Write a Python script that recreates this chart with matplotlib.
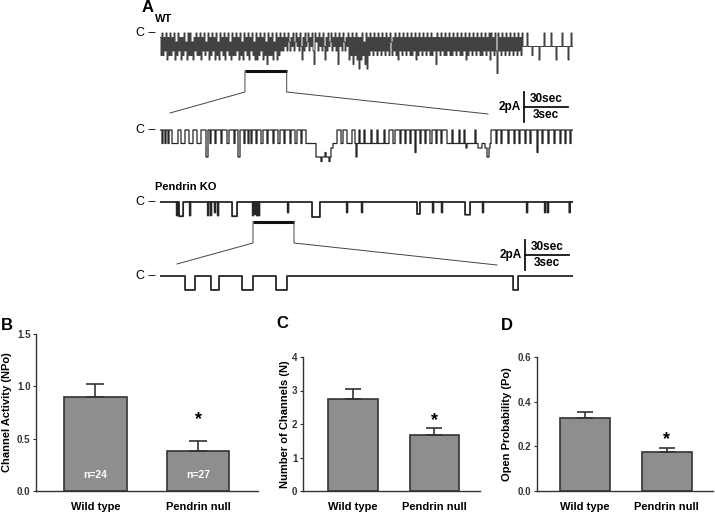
import matplotlib
matplotlib.use("Agg")
import matplotlib.pyplot as plt
import numpy as np

plt.rcParams['font.family'] = ['Liberation Sans', 'DejaVu Sans']
plt.rcParams['path.simplify'] = False

W, H = 715, 513

# ---- panel A: single channel records ----
# WT records: one character per sample = current below the closed level, in 0.3 pA steps
step_pa = 0.3
wt_full = ("1505140615" "0514062504" "1615042605" "0526140515" "0614052406"
           "1504160526" "0415061405" "2605150416" "0526041506" "1405260615"
           "0416052705" "1506240615" "041"
           "4031402413" "0420314036" "1403204130" "4702140314" "0361403204"
           "1304170314" "0241306"
           "1507150618" "1605270815" "0"
           "4150415041" "5041504150" "2514051604" "1504150415" "0514061504"
           "1504150415" "0514170415" "0415051405" "1504150415" "0514061504"
           "1504150415" "0514051406" "0415049041" "5041504150" "4150415041"
           "50"
           "3333033335" "3333336333" "3033333303" "3336333330" "3333363303")
wt_zoom = ("0030030030" "0033333300" "0333300003" "3330000333" "3000006600"
           "3000030000" "0300000330" "0000300066" "0000300030" "0300003000"
           "0330000300" "0003000033" "0000300000" "3000033000" "0300003333"
           "3333336666" "6766656667" "6443333000" "0330000333" "3300036330"
           "3333033333" "3033333033" "3333033330" "0003300000" "3000030000"
           "3000050000" "3000030000" "3300003000" "0300000333" "3303333330"
           "3333034333" "3333303344" "4433344664" "3000003000" "0300000030"
           "0000300003" "0000030000" "3000000500" "0030000030" "0000300000"
           "3000030000" "300")
# KO records: openings as (start s, end s, amplitude pA)
ko_full = [(11.4, 11.9, 0.9), (13.0, 15.8, 0.95), (20.3, 20.8, 0.9),
           (32.6, 33.1, 0.9), (34.6, 35.1, 0.9), (37.3, 37.8, 0.7), (39.4, 39.9, 0.9),
           (49.2, 52.6, 0.95), (63.3, 63.8, 0.9), (64.7, 65.2, 0.8), (66.0, 66.5, 0.9),
           (67.4, 67.9, 0.9), (87.2, 87.7, 0.7), (103.8, 109.2, 1.0), (127.5, 128.0, 0.7),
           (137.7, 138.2, 0.7), (175.5, 177.5, 0.8), (186.2, 186.7, 0.7), (192.3, 192.8, 0.7),
           (208.3, 211.7, 0.85), (220.3, 220.8, 0.7), (250.4, 250.9, 0.7),
           (262.7, 263.2, 0.7), (264.7, 265.2, 0.7), (279.5, 280.0, 0.7)]
ko_zoom = [(1.71, 2.39, 0.93), (3.48, 4.03, 0.93), (5.60, 6.35, 0.93),
           (7.92, 8.67, 0.93), (24.11, 24.45, 0.93)]
full_len = 282.0    # s
zoom_len = 28.2     # s
wt_window = (58.0, 86.5)
ko_window = (63.5, 91.5)

# ---- panels B-D ----
groups = ['Wild type', 'Pendrin null']
npo_mean = [0.90, 0.38]
npo_sem = [0.12, 0.10]
npo_n = [24, 27]
nch_mean = [2.75, 1.67]
nch_sem = [0.30, 0.20]
po_mean = [0.325, 0.173]
po_sem = [0.027, 0.020]

fig = plt.figure(figsize=(W / 100, H / 100), dpi=100)


def box(x0, y0, x1, y1):
    return [x0 / W, 1 - y1 / H, (x1 - x0) / W, (y1 - y0) / H]


px_pa = 15.0  # pixels per pA


def from_string(levels, duration):
    cur = -step_pa * np.array([int(c) for c in levels])
    return cur, np.linspace(0, duration, len(cur) + 1)


def from_events(events, duration):
    edges, cur = [0.0], []
    for a, b, amp in events:
        cur += [0.0, -amp]
        edges += [a, b]
    cur.append(0.0)
    edges.append(duration)
    return np.array(cur), np.array(edges)


def trace(base, cur, edges, duration, lw, color='#262626'):
    top, bot = base - 8, base + 42
    ax = fig.add_axes(box(160, top, 573, bot))
    ax.plot(edges, np.append(cur, cur[-1]), drawstyle='steps-post',
            color=color, lw=lw, snap=False)
    ax.set_xlim(0, duration)
    ax.set_ylim(-(bot - base) / px_pa, (base - top) / px_pa)
    ax.axis('off')
    ax.annotate('C –', xy=(0, 0), xycoords=('axes fraction', 'data'),
                xytext=(-3, 0), textcoords='offset points',
                ha='right', va='center', fontsize=9)
    return ax


ax_wt = trace(33, *from_string(wt_full, full_len), full_len, 0.6, '#1e1e1e')
ax_wtz = trace(130, *from_string(wt_zoom, zoom_len), zoom_len, 0.9)
ax_ko = trace(202, *from_events(ko_full, full_len), full_len, 1.3)
ax_koz = trace(276, *from_events(ko_zoom, zoom_len), zoom_len, 1.3)

ov = fig.add_axes([0, 0, 1, 1])
ov.set_xlim(0, W)
ov.set_ylim(H, 0)
ov.axis('off')


def to_px(ax, t):
    d = ax.transData.transform((t, 0))
    return ov.transData.inverted().transform(d)[0]


def zoom_mark(ax, win, ybar, ydrop, left_end, right_end):
    xa, xb = to_px(ax, win[0]), to_px(ax, win[1])
    ov.plot([xa, xb], [ybar, ybar], color='#111', lw=2.2, solid_capstyle='butt')
    ov.plot([xa, xa, left_end[0]], [ybar, ydrop, left_end[1]], color='#444', lw=0.7)
    ov.plot([xb, xb, right_end[0]], [ybar, ydrop, right_end[1]], color='#444', lw=0.7)


zoom_mark(ax_wt, wt_window, 71, 92, (170, 113), (488, 114))
zoom_mark(ax_ko, ko_window, 221.5, 243, (177, 264), (497, 265))


def scale_bar(x, y):
    px_s = to_px(ax_wt, 1.0) - to_px(ax_wt, 0.0)
    L = 30 * px_s
    h = 2 * px_pa
    ov.plot([x, x], [y - h / 2, y + h / 2], color='#111', lw=1.3)
    ov.plot([x, x + L], [y, y], color='#111', lw=1.3)
    ov.text(x - 3, y, '2pA', ha='right', va='center', fontsize=8.5, fontweight='bold')
    ov.text(x + L / 2, y - 1.5, '30sec', ha='center', va='bottom', fontsize=8.5, fontweight='bold')
    ov.text(x + L / 2, y + 1.5, '3sec', ha='center', va='top', fontsize=8.5, fontweight='bold')


scale_bar(524, 107)
scale_bar(525, 255)

ov.text(155, 19.5, 'WT', ha='left', va='center', fontsize=8, fontweight='bold')
ov.text(155, 187, 'Pendrin KO', ha='left', va='center', fontsize=8, fontweight='bold')

for letter, x, y in [('A', 148, 8), ('B', 7, 325), ('C', 282, 324), ('D', 507, 325)]:
    ov.text(x, y, letter, ha='center', va='center', fontsize=12, fontweight='bold')


def bar_panel(rect, xlim, means, sems, ylim, yticks, ylabel, label_x, cap, star_off):
    ax = fig.add_axes(box(*rect))
    x = np.arange(len(groups))
    ax.bar(x, means, width=0.61, color='#8e8e8e', edgecolor='#333333', linewidth=1.2, zorder=2)
    ax.errorbar(x, means, yerr=[np.zeros(len(x)), sems], fmt='none', ecolor='#333333',
                elinewidth=1.2, capsize=cap, capthick=1.2, zorder=3)
    ax.annotate('*', xy=(1, means[1] + sems[1]), xytext=(0, star_off),
                textcoords='offset points', ha='center', va='baseline',
                fontsize=13, fontweight='bold')
    ax.set_xlim(*xlim)
    ax.set_ylim(*ylim)
    ax.set_yticks(yticks)
    ax.set_xticks(x)
    ax.set_xticklabels(groups, fontsize=8, fontweight='bold')
    for lab in ax.get_yticklabels():
        lab.set_fontweight('bold')
    ax.tick_params(axis='y', direction='out', length=2.5, width=0.8, labelsize=7,
                   pad=1.5, colors='#333333')
    ax.tick_params(axis='x', length=0, pad=8)
    for s in ['top', 'right']:
        ax.spines[s].set_visible(False)
    for s in ['left', 'bottom']:
        ax.spines[s].set_color('#333333')
        ax.spines[s].set_linewidth(1.0)
    ax.set_ylabel(ylabel, fontsize=8, fontweight='bold')
    ax.yaxis.set_label_coords(label_x, 0.5)
    return ax


axB = bar_panel((36, 334, 258, 491), (-0.58, 1.585), npo_mean, npo_sem, (0, 1.5),
                [0, 0.5, 1.0, 1.5], 'Channel Activity (NPo)', -0.108, 6.8, 12)
axB.set_yticklabels(['0.0', '0.5', '1.0', '1.5'], fontweight='bold')
for i, n in enumerate(npo_n):
    axB.text(i, 0.15, f'n={n}', ha='center', va='center', color='white',
             fontsize=7.5, fontweight='bold')

bar_panel((303, 357, 480, 491), (-0.613, 1.56), nch_mean, nch_sem, (0, 4),
          [0, 1, 2, 3, 4], 'Number of Channels (N)', -0.073, 5.8, 2.5)
axD = bar_panel((537, 357, 713, 491), (-0.58, 1.567), po_mean, po_sem, (0, 0.6),
                [0, 0.2, 0.4, 0.6], 'Open Probability (Po)', -0.142, 5.8, 2.5)
axD.set_yticklabels(['0.0', '0.2', '0.4', '0.6'], fontweight='bold')

fig.savefig('out.png', dpi=100)
